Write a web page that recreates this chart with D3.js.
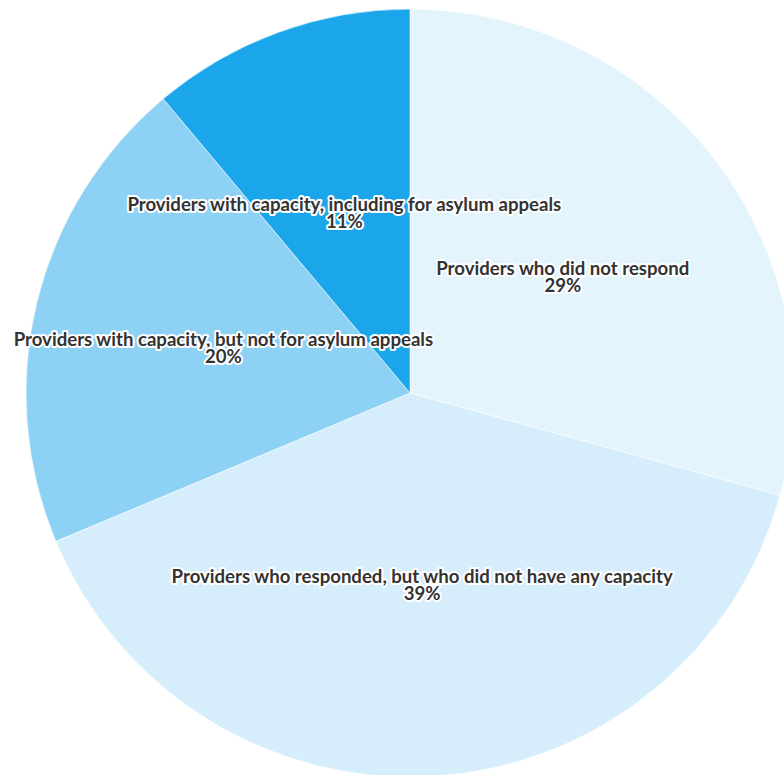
<!DOCTYPE html>
<html>
<head>
<meta charset="utf-8">
<script src="https://cdn.jsdelivr.net/npm/d3@7"></script>
<style>
  html, body { margin: 0; padding: 0; background: #fff; }
  svg { display: block; }
  .label { font-family: Lato, "Open Sans", sans-serif; font-weight: bold; font-size: 18.6px; fill: #333; }
</style>
</head>
<body>
<script>
var WIDTH = 784;
var HEIGHT = 775;
var CX = 410;
var CY = 393;
var RADIUS = 384;
var LINE_H = 17.5;

var categories = [
    "Providers who did not respond",
    "Providers who responded, but who did not have any capacity",
    "Providers with capacity, but not for asylum appeals",
    "Providers with capacity, including for asylum appeals"
];
var values = [29, 39, 20, 11];
var colors = ["#e3f4fd", "#d6eefb", "#8dd1f5", "#1ba6ec"];

var data = categories.map(function(c, i) {
    return {name: c, value: values[i], color: colors[i]};
});

var svg = d3.select("body").append("svg")
    .attr("width", WIDTH)
    .attr("height", HEIGHT);

var g = svg.append("g")
    .attr("transform", "translate(" + CX + "," + CY + ")");

var pie = d3.pie()
    .sort(null)
    .value(function(d) { return d.value; });

var arc = d3.arc()
    .innerRadius(0)
    .outerRadius(RADIUS);

var arcs = pie(data);

// slices
g.selectAll("path.slice")
    .data(arcs)
    .enter().append("path")
    .attr("class", "slice")
    .attr("d", arc)
    .style("fill", function(d) { return d.data.color; })
    .style("stroke", "#ffffff")
    .style("stroke-opacity", 0.6)
    .style("stroke-width", 1);

// labels sit on the arc centroid (half radius), two lines each
var labels = g.selectAll("g.label")
    .data(arcs)
    .enter().append("g")
    .attr("class", "label-group")
    .attr("transform", function(d) {
        var c = arc.centroid(d);
        return "translate(" + c[0] + "," + c[1] + ")";
    });

function addLine(sel, y, fn) {
    sel.append("text")
        .attr("class", "label")
        .attr("text-anchor", "middle")
        .attr("y", y)
        .style("paint-order", "stroke")
        .style("stroke", "#ffffff")
        .style("stroke-width", 4)
        .style("stroke-linejoin", "round")
        .text(fn);
}

addLine(labels, -2, function(d) { return d.data.name; });
addLine(labels, -2 + LINE_H, function(d) { return d.data.value + "%"; });
</script>
</body>
</html>
